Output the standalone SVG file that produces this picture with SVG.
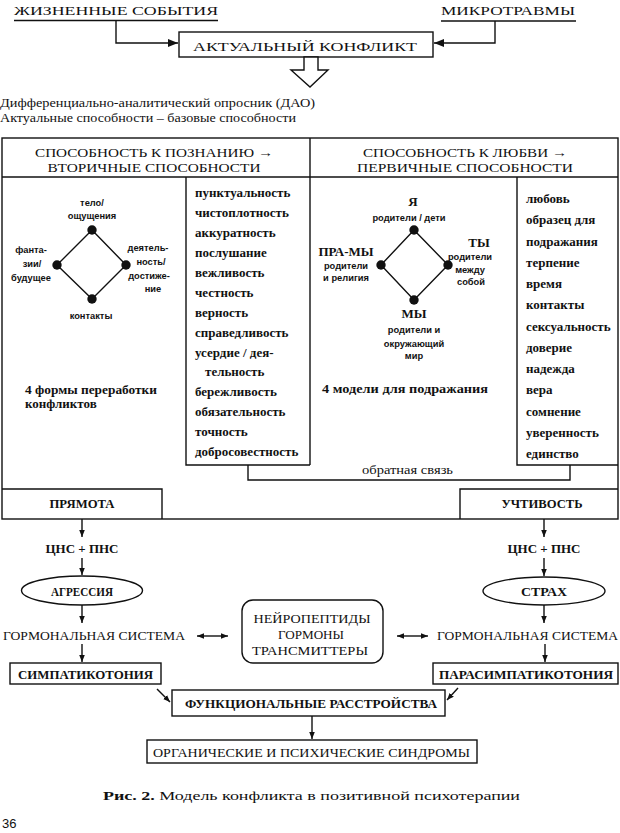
<svg xmlns="http://www.w3.org/2000/svg" width="620" height="833" viewBox="0 0 620 833">
<style>
text{font-family:"Liberation Serif","DejaVu Serif",serif;fill:#111;font-size:13px}
.b{font-weight:bold}
.sn{font-family:"Liberation Sans","DejaVu Sans",sans-serif;font-size:9.3px;font-weight:bold}
.m{text-anchor:middle}
.ln{stroke:#111;stroke-width:1.4;fill:none}
.bx{stroke:#111;stroke-width:1.4;fill:#fff}
.li{font-size:13px;font-weight:bold}
.dot{fill:#111}
</style>
<defs>
<marker id="ah" viewBox="0 0 10 8" refX="10" refY="4" markerWidth="10" markerHeight="8" markerUnits="userSpaceOnUse" orient="auto-start-reverse"><path d="M0,0 L10,4 L0,8 z" fill="#111"/></marker>
<marker id="as" viewBox="0 0 10 8" refX="10" refY="4" markerWidth="7" markerHeight="6" markerUnits="userSpaceOnUse" orient="auto-start-reverse"><path d="M0,0 L10,4 L0,8 z" fill="#111"/></marker>
</defs>

<g id="life-events">
<text x="14" y="15" font-size="17" textLength="204" lengthAdjust="spacingAndGlyphs">ЖИЗНЕННЫЕ СОБЫТИЯ</text>
<line class="ln" x1="14" y1="20.5" x2="218" y2="20.5"/>
</g>
<g id="microtraumas">
<text x="441" y="15" font-size="17" textLength="134" lengthAdjust="spacingAndGlyphs">МИКРОТРАВМЫ</text>
<line class="ln" x1="441" y1="21" x2="576" y2="21"/>
</g>
<g id="actual-conflict">
<rect class="bx" x="179" y="32" width="254" height="25"/>
<text x="193" y="50.5" font-size="17" textLength="224" lengthAdjust="spacingAndGlyphs">АКТУАЛЬНЫЙ КОНФЛИКТ</text>
</g>
<g id="dao">
<text x="0" y="107" font-size="12.5" textLength="315" lengthAdjust="spacingAndGlyphs">Дифференциально-аналитический опросник (ДАО)</text>
<text x="0" y="122" font-size="12.5" textLength="296" lengthAdjust="spacingAndGlyphs">Актуальные способности – базовые способности</text>
</g>

<g id="panel-frame">
<rect class="ln" x="2" y="138" width="616" height="381"/>
<line class="ln" x1="2" y1="177" x2="618" y2="177"/>
<line class="ln" x1="310" y1="138" x2="310" y2="465"/>
</g>
<g id="cognition-header">
<text class="m" x="154" y="157" font-size="16" textLength="238" lengthAdjust="spacingAndGlyphs">СПОСОБНОСТЬ К ПОЗНАНИЮ →</text>
<text class="m" x="154" y="171.5" font-size="16" textLength="213" lengthAdjust="spacingAndGlyphs">ВТОРИЧНЫЕ СПОСОБНОСТИ</text>
</g>
<g id="love-header">
<text class="m" x="465" y="157" font-size="16" textLength="204" lengthAdjust="spacingAndGlyphs">СПОСОБНОСТЬ К ЛЮБВИ →</text>
<text class="m" x="465" y="171.5" font-size="16" textLength="216" lengthAdjust="spacingAndGlyphs">ПЕРВИЧНЫЕ СПОСОБНОСТИ</text>
</g>

<g id="left-diamond">
<polygon class="ln" points="92,230 126,265 92,299 57,265"/>
<circle class="dot" cx="92" cy="230" r="4.7"/>
<circle class="dot" cx="126" cy="265" r="4.7"/>
<circle class="dot" cx="92" cy="299" r="4.7"/>
<circle class="dot" cx="57" cy="265" r="4.7"/>
<text class="sn m" x="92" y="206">тело/</text>
<text class="sn m" x="92" y="219">ощущения</text>
<text class="sn m" x="31" y="253">фанта-</text>
<text class="sn m" x="32" y="267">зии/</text>
<text class="sn m" x="31" y="281">будущее</text>
<text class="sn m" x="148" y="251">деятель-</text>
<text class="sn m" x="151" y="265">ность/</text>
<text class="sn m" x="149" y="279">достиже-</text>
<text class="sn m" x="153" y="292">ние</text>
<text class="sn m" x="91" y="319">контакты</text>
<text class="b" x="25" y="394" font-size="13" textLength="132" lengthAdjust="spacingAndGlyphs">4 формы переработки</text>
<text class="b" x="25" y="408" font-size="13">конфликтов</text>
</g>

<g id="secondary-list">
<polyline class="ln" points="186,177 186,465 310,465"/>
<text class="li" x="195" y="197">пунктуальность</text>
<text class="li" x="195" y="217">чистоплотность</text>
<text class="li" x="195" y="237">аккуратность</text>
<text class="li" x="195" y="257">послушание</text>
<text class="li" x="195" y="277">вежливость</text>
<text class="li" x="195" y="297">честность</text>
<text class="li" x="195" y="317">верность</text>
<text class="li" x="195" y="337">справедливость</text>
<text class="li" x="195" y="357">усердие / дея-</text>
<text class="li" x="205" y="376">тельность</text>
<text class="li" x="195" y="396">бережливость</text>
<text class="li" x="195" y="416">обязательность</text>
<text class="li" x="195" y="436">точность</text>
<text class="li" x="195" y="456">добросовестность</text>
</g>

<g id="right-diamond">
<polygon class="ln" points="414,230 448,265 414,300 381,265"/>
<circle class="dot" cx="414" cy="230" r="4.7"/>
<circle class="dot" cx="448" cy="265" r="4.7"/>
<circle class="dot" cx="414" cy="300" r="4.7"/>
<circle class="dot" cx="381" cy="265" r="4.7"/>
<text class="b m" x="413" y="206" font-size="11.5">Я</text>
<text class="sn m" x="409" y="221">родители / дети</text>
<text class="b m" x="479" y="247" font-size="11.5">ТЫ</text>
<text class="sn m" x="470" y="260">родители</text>
<text class="sn m" x="470" y="273">между</text>
<text class="sn m" x="471" y="285">собой</text>
<text class="b m" x="346" y="256" font-size="11.5">ПРА-МЫ</text>
<text class="sn m" x="346" y="269">родители</text>
<text class="sn m" x="346" y="281">и религия</text>
<text class="b m" x="414" y="318" font-size="11.5">МЫ</text>
<text class="sn m" x="414" y="333">родители и</text>
<text class="sn m" x="414" y="347">окружающий</text>
<text class="sn m" x="414" y="359">мир</text>
<text class="b" x="322" y="393" font-size="13" textLength="166" lengthAdjust="spacingAndGlyphs">4 модели для подражания</text>
</g>

<g id="primary-list">
<polyline class="ln" points="517,177 517,465 618,465"/>
<text class="li" x="526" y="203">любовь</text>
<text class="li" x="526" y="224">образец для</text>
<text class="li" x="526" y="246">подражания</text>
<text class="li" x="526" y="267">терпение</text>
<text class="li" x="526" y="288">время</text>
<text class="li" x="526" y="309">контакты</text>
<text class="li" x="526" y="331">сексуальность</text>
<text class="li" x="526" y="352">доверие</text>
<text class="li" x="526" y="373">надежда</text>
<text class="li" x="526" y="394">вера</text>
<text class="li" x="526" y="416">сомнение</text>
<text class="li" x="526" y="437">уверенность</text>
<text class="li" x="526" y="458">единство</text>
</g>

<g id="feedback">
<polyline class="ln" points="248,465 248,480 570,480 570,465"/>
<text x="362" y="474" font-size="12.5" textLength="91" lengthAdjust="spacingAndGlyphs">обратная связь</text>
</g>

<g id="directness">
<polyline class="ln" points="2,489 162,489 162,519"/>
<text class="b m" x="82" y="508" font-size="14" textLength="65" lengthAdjust="spacingAndGlyphs">ПРЯМОТА</text>
</g>
<g id="politeness">
<polyline class="ln" points="618,489 460,489 460,519"/>
<text class="b m" x="542" y="508" font-size="14" textLength="81" lengthAdjust="spacingAndGlyphs">УЧТИВОСТЬ</text>
</g>

<g id="cns-left"><text class="b m" x="82" y="553" font-size="14" textLength="73" lengthAdjust="spacingAndGlyphs">ЦНС + ПНС</text></g>
<g id="cns-right"><text class="b m" x="544" y="553" font-size="14" textLength="73" lengthAdjust="spacingAndGlyphs">ЦНС + ПНС</text></g>
<g id="aggression">
<ellipse class="bx" cx="82" cy="590.5" rx="60.5" ry="14.5"/>
<text class="b m" x="82" y="595.5" font-size="13.5" textLength="62" lengthAdjust="spacingAndGlyphs">АГРЕССИЯ</text>
</g>
<g id="fear">
<ellipse class="bx" cx="544" cy="591" rx="61" ry="14"/>
<text class="b m" x="544" y="596" font-size="13.5" textLength="46" lengthAdjust="spacingAndGlyphs">СТРАХ</text>
</g>
<g id="hormonal-left"><text x="3" y="640" font-size="15" textLength="182" lengthAdjust="spacingAndGlyphs">ГОРМОНАЛЬНАЯ СИСТЕМА</text></g>
<g id="hormonal-right"><text x="437" y="640" font-size="15" textLength="181" lengthAdjust="spacingAndGlyphs">ГОРМОНАЛЬНАЯ СИСТЕМА</text></g>
<g id="neuropeptides">
<rect class="bx" x="242" y="600" width="141" height="63" rx="11"/>
<text class="m" x="312" y="623" font-size="14.5" textLength="117" lengthAdjust="spacingAndGlyphs">НЕЙРОПЕПТИДЫ</text>
<text class="m" x="311" y="639" font-size="14.5" textLength="66" lengthAdjust="spacingAndGlyphs">ГОРМОНЫ</text>
<text class="m" x="310" y="655" font-size="14.5" textLength="116" lengthAdjust="spacingAndGlyphs">ТРАНСМИТТЕРЫ</text>
</g>
<g id="sympathicotonia">
<rect class="bx" x="10" y="663" width="151" height="21"/>
<text class="b" x="18" y="678.5" font-size="13.5" textLength="135" lengthAdjust="spacingAndGlyphs">СИМПАТИКОТОНИЯ</text>
</g>
<g id="parasympathicotonia">
<rect class="bx" x="433" y="663" width="185" height="21"/>
<text class="b" x="439" y="678.5" font-size="13.5" textLength="174" lengthAdjust="spacingAndGlyphs">ПАРАСИМПАТИКОТОНИЯ</text>
</g>
<g id="functional-disorders">
<rect class="bx" x="172" y="690" width="273" height="26"/>
<text class="b" x="185" y="708" font-size="13.5" textLength="252" lengthAdjust="spacingAndGlyphs">ФУНКЦИОНАЛЬНЫЕ РАССТРОЙСТВА</text>
</g>
<g id="syndromes">
<rect class="bx" x="147" y="740" width="330" height="23"/>
<text x="153" y="757" font-size="14" textLength="317" lengthAdjust="spacingAndGlyphs">ОРГАНИЧЕСКИЕ И ПСИХИЧЕСКИЕ СИНДРОМЫ</text>
</g>

<g id="connectors">
<polyline class="ln" points="116,20.5 116,43 178,43" marker-end="url(#ah)"/>
<polyline class="ln" points="495,21 495,43 434,43" marker-end="url(#ah)"/>
<polygon class="bx" points="304,57 304,70 291,70 310,87 328,70 318,70 318,57"/>
<line class="ln" x1="82" y1="519" x2="82" y2="537" marker-end="url(#as)"/>
<line class="ln" x1="82" y1="558" x2="82" y2="575" marker-end="url(#as)"/>
<line class="ln" x1="82" y1="605" x2="82" y2="623" marker-end="url(#as)"/>
<line class="ln" x1="82" y1="644" x2="82" y2="662" marker-end="url(#as)"/>
<line class="ln" x1="544" y1="519" x2="544" y2="537" marker-end="url(#as)"/>
<line class="ln" x1="544" y1="558" x2="544" y2="576" marker-end="url(#as)"/>
<line class="ln" x1="544" y1="605" x2="544" y2="623" marker-end="url(#as)"/>
<line class="ln" x1="545" y1="644" x2="545" y2="662" marker-end="url(#as)"/>
<line class="ln" x1="197" y1="636" x2="228" y2="636" marker-start="url(#as)" marker-end="url(#as)" stroke-width="1"/>
<line class="ln" x1="397" y1="636" x2="428" y2="636" marker-start="url(#as)" marker-end="url(#as)" stroke-width="1"/>
<line class="ln" x1="157" y1="689" x2="170" y2="702" marker-end="url(#as)" stroke-width="1"/>
<line class="ln" x1="458" y1="688" x2="447" y2="700" marker-end="url(#as)" stroke-width="1"/>
<line class="ln" x1="312" y1="716" x2="312" y2="739" marker-end="url(#as)"/>
</g>

<g id="caption">
<text x="103" y="800" font-size="15" textLength="417" lengthAdjust="spacingAndGlyphs"><tspan font-weight="bold">Рис. 2.</tspan> Модель конфликта в позитивной психотерапии</text>
</g>
<g id="page-number"><text x="2" y="828" font-size="14" style="font-family:'Liberation Sans',sans-serif">36</text></g>
</svg>
